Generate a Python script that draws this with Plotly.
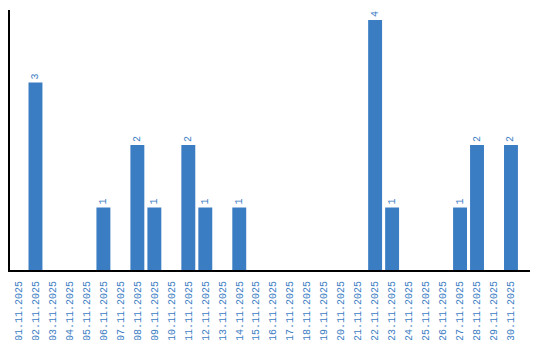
import plotly.graph_objects as go

dates = [f"{d:02d}.11.2025" for d in range(1, 31)]
counts = [0, 3, 0, 0, 0, 1, 0, 2, 1, 0, 2, 1, 0, 1, 0, 0, 0, 0, 0, 0, 0, 4, 1, 0, 0, 0, 1, 2, 0, 2]
labels = [str(c) if c > 0 else "" for c in counts]

blue = "#3b7dc3"
font = "Liberation Mono"

fig = go.Figure(go.Bar(
    x=dates, y=counts, text=labels, textposition="outside", textangle=-90,
    textfont=dict(family=font, size=10, color=blue),
    marker=dict(color=blue, line=dict(width=0)), cliponaxis=False,
))
fig.update_layout(
    width=540, height=340, margin=dict(l=10, r=10, t=10, b=70),
    plot_bgcolor="white", paper_bgcolor="white", showlegend=False,
    bargap=0.18,
)
fig.update_xaxes(showline=True, linecolor="black", linewidth=2, showgrid=False,
                 tickangle=-90, tickfont=dict(family=font, size=10, color=blue),
                 ticks="", ticklabelstandoff=5, type="category", automargin=False,
                 range=[-0.5, 30.12])
fig.update_yaxes(showline=True, linecolor="black", linewidth=2, showgrid=False,
                 showticklabels=False, ticks="", range=[0, 4.16], zeroline=False,
                 automargin=False)
fig.write_html("out.html")
